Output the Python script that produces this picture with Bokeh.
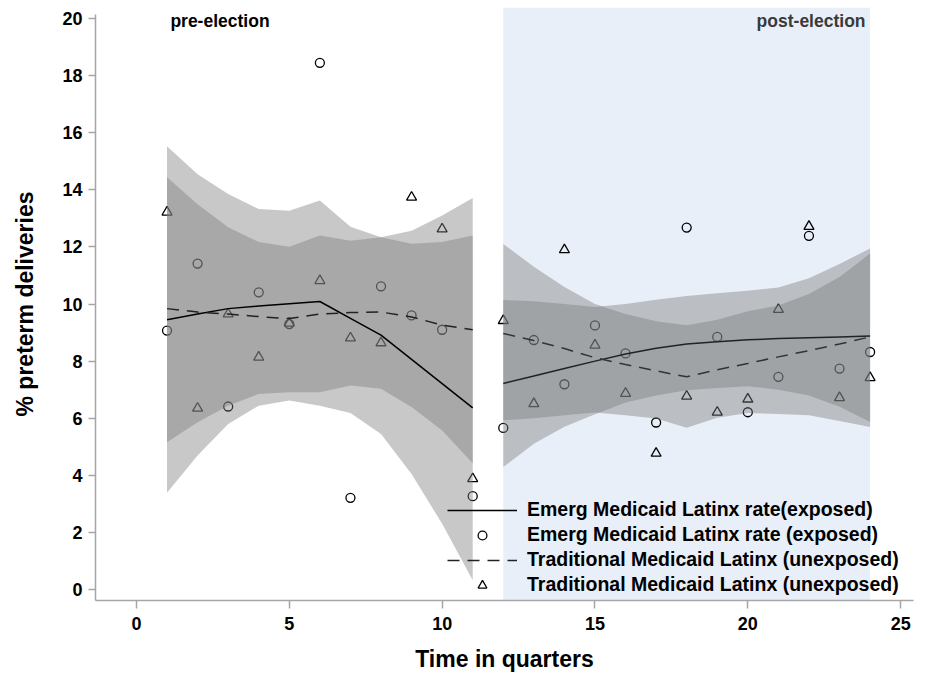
from bokeh.plotting import figure
from bokeh.models import Range1d, BoxAnnotation, Label, Legend, LegendItem
from bokeh.embed import file_html
from bokeh.resources import INLINE

# ---------------- data ----------------
t_pre = [1, 2, 3, 4, 5, 6, 7, 8, 9, 10, 11]
t_post = [12, 13, 14, 15, 16, 17, 18, 19, 20, 21, 22, 23, 24]

# observed rates (points)
exp_pre_pts = [9.07, 11.42, 6.41, 10.41, 9.30, 18.45, 3.21, 10.62, 9.60, 9.10, 3.27]
unexp_pre_pts = [13.22, 6.35, 9.65, 8.14, 9.33, 10.82, 8.81, 8.64, 13.74, 12.63, 3.88]
exp_post_pts = [5.66, 8.74, 7.19, 9.25, 8.27, 5.85, 12.68, 8.85, 6.21, 7.45, 12.39, 7.74, 8.32]
unexp_post_pts = [9.42, 6.51, 11.90, 8.56, 6.87, 4.77, 6.77, 6.21, 6.67, 9.81, 12.72, 6.72, 7.42]

# fitted lines
exp_pre_fit = [9.45, 9.65, 9.84, 9.93, 10.01, 10.09, 9.50, 8.91, 8.06, 7.21, 6.36]
unexp_pre_fit = [9.84, 9.72, 9.65, 9.56, 9.49, 9.65, 9.70, 9.72, 9.55, 9.26, 9.10]
exp_post_fit = [7.22, 7.48, 7.74, 8.00, 8.25, 8.45, 8.60, 8.68, 8.75, 8.79, 8.82, 8.85, 8.88]
unexp_post_fit = [8.97, 8.72, 8.44, 8.12, 7.88, 7.66, 7.45, 7.70, 7.92, 8.15, 8.37, 8.60, 8.85]

# confidence bands
exp_pre_upper = [15.53, 14.55, 13.86, 13.33, 13.27, 13.63, 12.71, 12.34, 12.57, 13.10, 13.72]
exp_pre_lower = [3.39, 4.69, 5.80, 6.44, 6.62, 6.44, 6.18, 5.45, 4.05, 2.30, 0.32]
unexp_pre_upper = [14.44, 13.50, 12.69, 12.17, 12.01, 12.40, 12.22, 12.34, 12.11, 12.17, 12.40]
unexp_pre_lower = [5.16, 5.86, 6.44, 6.85, 6.91, 6.91, 7.15, 7.03, 6.39, 5.57, 4.42]
exp_post_upper = [10.14, 10.10, 10.00, 9.90, 10.00, 10.15, 10.28, 10.38, 10.47, 10.58, 10.90, 11.40, 11.95]
exp_post_lower = [4.29, 5.11, 5.70, 6.14, 6.55, 6.80, 6.98, 7.06, 7.12, 7.00, 6.80, 6.40, 5.87]
unexp_post_upper = [12.10, 11.31, 10.60, 10.00, 9.65, 9.40, 9.26, 9.45, 9.75, 9.95, 10.35, 10.95, 11.77]
unexp_post_lower = [5.93, 6.00, 6.10, 6.20, 6.10, 5.99, 5.67, 6.02, 6.18, 6.15, 6.10, 5.90, 5.69]

x_ticks = [0, 5, 10, 15, 20, 25]
y_ticks = [0, 2, 4, 6, 8, 10, 12, 14, 16, 18, 20]
post_start, post_end = 12, 24

FONT = "Liberation Sans"
AX = "#a6a6a6"

p = figure(width=919, height=678, output_backend="svg", toolbar_location=None,
           x_range=Range1d(-1.34, 25.42), y_range=Range1d(-0.386, 20.39),
           min_border_left=95, min_border_right=6, min_border_top=7, min_border_bottom=78)
p.outline_line_color = None
p.xgrid.visible = False
p.ygrid.visible = False
p.background_fill_color = "white"

p.add_layout(BoxAnnotation(left=post_start, right=post_end, fill_color="#e8eff8",
                           fill_alpha=1.0, line_color=None, level="underlay"))

# points (drawn first so that the bands tint them)
c1 = p.scatter(t_pre, exp_pre_pts, marker="circle", size=9, fill_color=None,
               line_color="black", line_width=1.3)
p.scatter(t_post, exp_post_pts, marker="circle", size=9, fill_color=None,
          line_color="black", line_width=1.3)
tr1 = p.scatter(t_pre, unexp_pre_pts, marker="triangle", size=10, fill_color=None,
                line_color="black", line_width=1.3)
p.scatter(t_post, unexp_post_pts, marker="triangle", size=10, fill_color=None,
          line_color="black", line_width=1.3)

BAND = "#7c7c7c"
BA = 0.42
p.varea(x=t_pre, y1=exp_pre_lower, y2=exp_pre_upper, fill_color=BAND, fill_alpha=BA)
p.varea(x=t_pre, y1=unexp_pre_lower, y2=unexp_pre_upper, fill_color=BAND, fill_alpha=BA)
p.varea(x=t_post, y1=exp_post_lower, y2=exp_post_upper, fill_color=BAND, fill_alpha=BA)
p.varea(x=t_post, y1=unexp_post_lower, y2=unexp_post_upper, fill_color=BAND, fill_alpha=BA)

l1 = p.line(t_pre, exp_pre_fit, line_color="black", line_width=1.5)
p.line(t_post, exp_post_fit, line_color="#222222", line_width=1.5)
l2 = p.line(t_pre, unexp_pre_fit, line_color="#222222", line_width=1.5, line_dash="12 8")
p.line(t_post, unexp_post_fit, line_color="#333333", line_width=1.5, line_dash="12 8")

# axes
for ax in (p.xaxis, p.yaxis):
    ax.axis_line_color = AX
    ax.axis_line_width = 1.5
    ax.major_tick_line_color = AX
    ax.major_tick_line_width = 1.5
    ax.major_tick_in = 0
    ax.major_tick_out = 7
    ax.minor_tick_line_color = None
    ax.major_label_text_font = FONT
    ax.major_label_text_font_style = "bold"
    ax.major_label_text_font_size = "18px"
    ax.major_label_text_color = "black"
    ax.axis_label_text_font = FONT
    ax.axis_label_text_font_style = "bold"
    ax.axis_label_text_font_size = "23px"
    ax.axis_label_text_color = "black"

p.xaxis.ticker = x_ticks
p.yaxis.ticker = y_ticks
p.yaxis.bounds = (-0.386, 20.15)
p.xaxis.axis_label = "Time in quarters"
p.yaxis.axis_label = "% preterm deliveries"
p.xaxis.major_tick_out = 8
p.xaxis.major_label_standoff = 8
p.xaxis.axis_label_standoff = 13
p.yaxis.major_label_standoff = 6
p.yaxis.axis_label_standoff = 21

p.add_layout(Label(x=1.11, y=19.9, text="pre-election", text_font=FONT,
                   text_font_style="bold", text_font_size="17.5px", text_color="black",
                   text_baseline="middle", text_align="left"))
p.add_layout(Label(x=23.85, y=19.9, text="post-election", text_font=FONT,
                   text_font_style="bold", text_font_size="17.5px", text_color="#3a3a3a",
                   text_baseline="middle", text_align="right"))

legend = Legend(items=[
    LegendItem(label="Emerg Medicaid Latinx rate(exposed)", renderers=[l1]),
    LegendItem(label="Emerg Medicaid Latinx rate (exposed)", renderers=[c1]),
    LegendItem(label="Traditional Medicaid Latinx (unexposed)", renderers=[l2]),
    LegendItem(label="Traditional Medicaid Latinx (unexposed)", renderers=[tr1]),
], location=(352, 4), glyph_width=70, glyph_height=22, label_height=22, spacing=2,
    padding=0, margin=0, label_standoff=10, border_line_color=None,
    background_fill_alpha=0, label_text_font=FONT, label_text_font_style="bold",
    label_text_font_size="19.5px", label_text_color="black")
p.add_layout(legend)

open("out.html", "w").write(file_html(p, INLINE))
